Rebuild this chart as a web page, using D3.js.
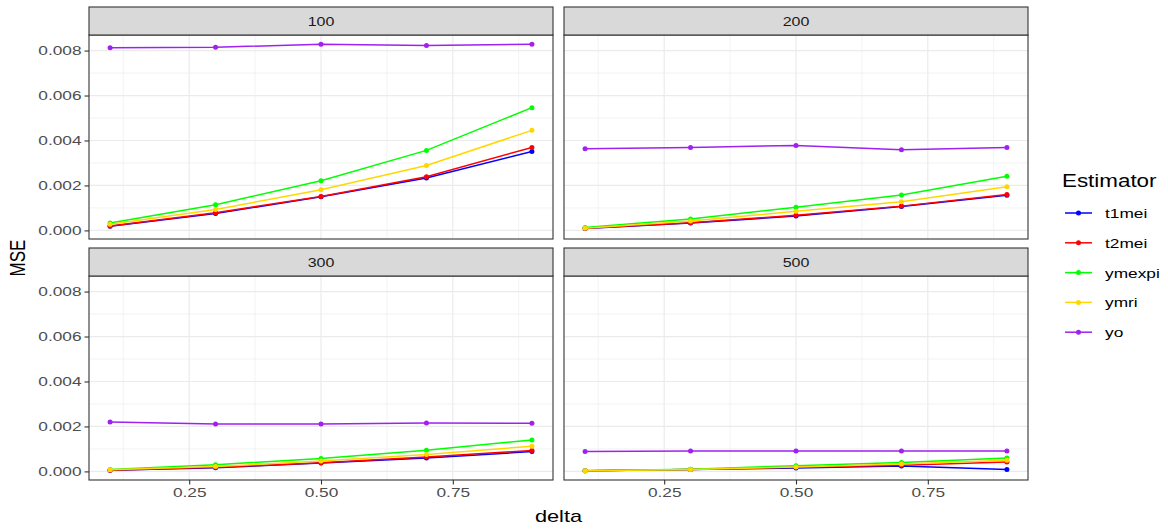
<!DOCTYPE html>
<html>
<head>
<meta charset="utf-8">
<script src="https://cdn.jsdelivr.net/npm/d3@7"></script>
<style>
body { margin: 0; background: #fff; }
text { font-family: "Liberation Sans", Arial, sans-serif; }
</style>
</head>
<body>
<svg id="chart" width="1168" height="531"></svg>
<script>

var delta = [0.1, 0.3, 0.5, 0.7, 0.9];
var facets = ["100", "200", "300", "500"];
var estimators = ["t1mei", "t2mei", "ymexpi", "ymri", "yo"];
var colours = ["#0000FF", "#FF0000", "#00FF00", "#FFD700", "#A020F0"];

// MSE by estimator (same order as estimators), one array per sample size
var mse_100 = [
    [0.00019, 0.00075, 0.00150, 0.00233, 0.00351],
    [0.00020, 0.00079, 0.00151, 0.00239, 0.00369],
    [0.00033, 0.00114, 0.00221, 0.00356, 0.00546],
    [0.00027, 0.00093, 0.00181, 0.00289, 0.00445],
    [0.00813, 0.00815, 0.00828, 0.00822, 0.00828]
];
var mse_200 = [
    [0.00009, 0.00033, 0.00064, 0.00106, 0.00156],
    [0.00010, 0.00034, 0.00067, 0.00108, 0.00160],
    [0.00013, 0.00051, 0.00103, 0.00157, 0.00241],
    [0.00010, 0.00042, 0.00085, 0.00127, 0.00194],
    [0.00363, 0.00369, 0.00378, 0.00359, 0.00369]
];
var mse_300 = [
    [0.00005, 0.00016, 0.00037, 0.00060, 0.00088],
    [0.00005, 0.00018, 0.00039, 0.00064, 0.00093],
    [0.00009, 0.00030, 0.00057, 0.00094, 0.00140],
    [0.00007, 0.00022, 0.00046, 0.00075, 0.00112],
    [0.00220, 0.00211, 0.00211, 0.00215, 0.00214]
];
var mse_500 = [
    [0.00003, 0.00008, 0.00015, 0.00024, 0.00008],
    [0.00003, 0.00009, 0.00018, 0.00027, 0.00042],
    [0.00003, 0.00010, 0.00025, 0.00040, 0.00060],
    [0.00003, 0.00009, 0.00020, 0.00033, 0.00050],
    [0.00088, 0.00091, 0.00091, 0.00091, 0.00091]
];

var xTicks = [0.25, 0.5, 0.75];
var xMinor = [0.125, 0.375, 0.625, 0.875];
var yTicks = [0, 0.002, 0.004, 0.006, 0.008];
var yMinor = [0.001, 0.003, 0.005, 0.007];

var allData = [mse_100, mse_200, mse_300, mse_500];

// the reference picture is stretched sideways, so is its text
var SX = 1.28;

var svg = d3.select("#chart");

var colX = [89, 564];
var rowTop = [7, 248];
var panelW = 464, stripH = 28, plotH = 204;

// shared scales, ggplot style 5% expansion
var flat = [].concat.apply([], allData.map(function(m){ return [].concat.apply([], m); }));
var yMin = d3.min(flat), yMax = d3.max(flat);
var yPad = (yMax - yMin) * 0.05;
var xPad = (d3.max(delta) - d3.min(delta)) * 0.05;

var x = d3.scaleLinear()
    .domain([d3.min(delta) - xPad, d3.max(delta) + xPad])
    .range([0, panelW]);
var y = d3.scaleLinear()
    .domain([yMin - yPad, yMax + yPad])
    .range([plotH, 0]);

var line = d3.line()
    .x(function(d){ return x(d[0]); })
    .y(function(d){ return y(d[1]); });

function stretchText(sel, px, py) {
    sel.attr("transform", "translate(" + px + "," + py + ") scale(" + SX + ",1)");
}

facets.forEach(function(f, i) {
    var col = i % 2, row = Math.floor(i / 2);
    var px = colX[col], top = rowTop[row];
    var g = svg.append("g")
        .attr("transform", "translate(" + px + "," + (top + stripH) + ")");

    // strip
    svg.append("rect")
        .attr("x", px).attr("y", top)
        .attr("width", panelW).attr("height", stripH)
        .attr("fill", "#D9D9D9")
        .attr("stroke", "#333333")
        .attr("stroke-width", 1.1);
    svg.append("text")
        .text(f)
        .attr("text-anchor", "middle")
        .attr("font-size", "12.5px")
        .attr("fill", "#1A1A1A")
        .call(stretchText, px + panelW / 2, top + stripH / 2 + 4.5);

    // grid
    g.selectAll(".ymin").data(yMinor).enter().append("line")
        .attr("x1", 0).attr("x2", panelW)
        .attr("y1", function(d){ return y(d); }).attr("y2", function(d){ return y(d); })
        .attr("stroke", "#EBEBEB").attr("stroke-width", 0.6);
    g.selectAll(".xmin").data(xMinor).enter().append("line")
        .attr("y1", 0).attr("y2", plotH)
        .attr("x1", function(d){ return x(d); }).attr("x2", function(d){ return x(d); })
        .attr("stroke", "#EBEBEB").attr("stroke-width", 0.6);
    g.selectAll(".ymaj").data(yTicks).enter().append("line")
        .attr("x1", 0).attr("x2", panelW)
        .attr("y1", function(d){ return y(d); }).attr("y2", function(d){ return y(d); })
        .attr("stroke", "#EBEBEB").attr("stroke-width", 1.2);
    g.selectAll(".xmaj").data(xTicks).enter().append("line")
        .attr("y1", 0).attr("y2", plotH)
        .attr("x1", function(d){ return x(d); }).attr("x2", function(d){ return x(d); })
        .attr("stroke", "#EBEBEB").attr("stroke-width", 1.2);

    // series
    var m = allData[i];
    estimators.forEach(function(e, k) {
        var pts = delta.map(function(dv, j){ return [dv, m[k][j]]; });
        g.append("path")
            .datum(pts)
            .attr("d", line)
            .attr("fill", "none")
            .attr("stroke", colours[k])
            .attr("stroke-width", 1.5);
        g.selectAll(".pt" + k).data(pts).enter().append("circle")
            .attr("cx", function(d){ return x(d[0]); })
            .attr("cy", function(d){ return y(d[1]); })
            .attr("r", 2.5)
            .attr("fill", colours[k]);
    });

    // border
    g.append("rect")
        .attr("width", panelW).attr("height", plotH)
        .attr("fill", "none")
        .attr("stroke", "#333333")
        .attr("stroke-width", 1.1);

    // axes
    if (col == 0) {
        var ya = g.append("g")
            .call(d3.axisLeft(y).tickValues(yTicks).tickFormat(d3.format(".3f")).tickSize(4.5).tickPadding(3));
        ya.select(".domain").remove();
        ya.selectAll("line").attr("stroke", "#333333").attr("stroke-width", 1.1);
        ya.selectAll("text")
            .attr("font-size", "13.5px")
            .attr("font-family", "Liberation Sans, Arial, sans-serif")
            .attr("fill", "#4D4D4D")
            .attr("x", -7.5 / SX)
            .attr("transform", "scale(" + SX + ",1)");
    }
    if (row == 1) {
        var xa = g.append("g")
            .attr("transform", "translate(0," + plotH + ")")
            .call(d3.axisBottom(x).tickValues(xTicks).tickFormat(d3.format(".2f")).tickSize(4.5).tickPadding(3));
        xa.select(".domain").remove();
        xa.selectAll("line").attr("stroke", "#333333").attr("stroke-width", 1.1);
        xa.selectAll("text")
            .attr("font-size", "13.5px")
            .attr("font-family", "Liberation Sans, Arial, sans-serif")
            .attr("fill", "#4D4D4D")
            .attr("transform", "scale(" + SX + ",1)");
    }
});

// axis titles
svg.append("text")
    .text("delta")
    .attr("text-anchor", "middle")
    .attr("font-size", "17px")
    .attr("fill", "#000")
    .call(stretchText, (colX[0] + colX[1] + panelW) / 2, 522);

svg.append("text")
    .text("MSE")
    .attr("text-anchor", "middle")
    .attr("font-size", "17px")
    .attr("fill", "#000")
    .attr("transform", "translate(25,258) rotate(-90) scale(1," + SX + ")");

// legend
var legend = svg.append("g").attr("transform", "translate(1062,0)");
legend.append("text")
    .text("Estimator")
    .attr("font-size", "17.5px")
    .attr("fill", "#000")
    .call(stretchText, 0, 187);

var keys = legend.selectAll(".key").data(estimators).enter().append("g")
    .attr("transform", function(d, k){ return "translate(0," + (213 + k * 29.8) + ")"; });
keys.append("line")
    .attr("x1", 3).attr("x2", 30)
    .attr("stroke", function(d, k){ return colours[k]; })
    .attr("stroke-width", 1.5);
keys.append("circle")
    .attr("cx", 16.5).attr("r", 2.5)
    .attr("fill", function(d, k){ return colours[k]; });
keys.append("text")
    .text(function(d){ return d; })
    .attr("font-size", "13.5px")
    .attr("fill", "#000")
    .each(function(){ d3.select(this).call(stretchText, 43, 5); });

</script>
</body>
</html>
